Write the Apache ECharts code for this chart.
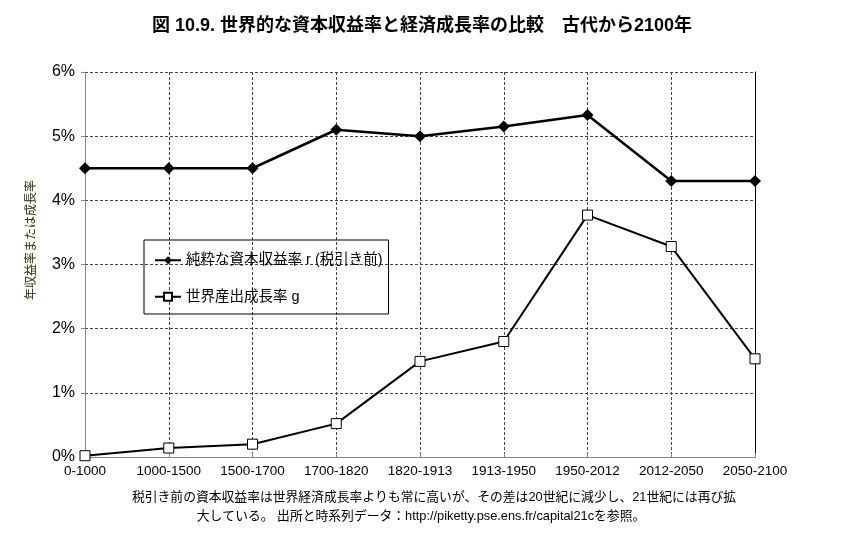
<!DOCTYPE html>
<html>
<head>
<meta charset="utf-8">
<script src="https://cdn.jsdelivr.net/npm/echarts@6/dist/echarts.min.js"></script>
<style>
  html, body { margin: 0; padding: 0; background: #fff; }
  #chart1 { width: 844px; height: 546px; }
</style>
</head>
<body>
<div id="chart1"></div>
<script>
// data
var periods = ['0-1000', '1000-1500', '1500-1700', '1700-1820', '1820-1913',
               '1913-1950', '1950-2012', '2012-2050', '2050-2100'];
var returnRate = [4.5, 4.5, 4.5, 5.1, 5.0, 5.15, 5.33, 4.3, 4.3];
var growthRate = [0.02, 0.14, 0.2, 0.52, 1.49, 1.8, 3.77, 3.28, 1.53];
var seriesNames = ['純粋な資本収益率 r (税引き前)', '世界産出成長率 g'];

var FONT = '"Liberation Sans", "Noto Sans CJK JP", sans-serif';

var chartDom = document.getElementById('chart1');
var myChart = echarts.init(chartDom);
var option;

option = {
    backgroundColor: '#fff',
    textStyle: {fontFamily: FONT},
    title: {
        text: '図 10.9. 世界的な資本収益率と経済成長率の比較　古代から2100年',
        left: 'center',
        top: 12,
        textStyle: {fontSize: 18, fontWeight: 'bold', color: '#000', fontFamily: FONT}
    },
    legend: {
        orient: 'vertical',
        left: 144,
        top: 240,
        padding: [13, 6, 10, 10],
        itemGap: 22,
        itemWidth: 26,
        itemHeight: 10,
        borderColor: '#000',
        borderWidth: 1,
        textStyle: {fontSize: 14.5, color: '#000', fontFamily: FONT},
        data: seriesNames
    },
    grid: {left: 85, right: 89, top: 72, bottom: 89},
    xAxis: {
        type: 'category',
        data: periods,
        boundaryGap: false,
        axisLine: {lineStyle: {color: '#888', width: 1}},
        axisTick: {show: true, inside: true, length: 4, lineStyle: {color: '#888'}},
        axisLabel: {fontSize: 13.5, color: '#000', margin: 8, interval: 0},
        splitLine: {show: true, lineStyle: {type: [3, 2], color: '#444', width: 1}}
    },
    yAxis: [
        {
            type: 'value',
            min: 0,
            max: 6,
            interval: 1,
            axisLine: {show: true, lineStyle: {color: '#888', width: 1}},
            axisTick: {show: true, length: 4, lineStyle: {color: '#888'}},
            axisLabel: {formatter: '{value}%', fontSize: 16, color: '#000', margin: 10},
            splitLine: {show: true, lineStyle: {type: [3, 2], color: '#444', width: 1}}
        },
        {
            type: 'value',
            min: 0,
            max: 6,
            interval: 1,
            position: 'right',
            axisLine: {show: true, lineStyle: {color: '#000', width: 1}},
            axisTick: {show: false},
            axisLabel: {show: false},
            splitLine: {show: false}
        }
    ],
    series: [
        {
            name: seriesNames[0],
            type: 'line',
            data: returnRate,
            symbol: 'diamond',
            symbolSize: 12,
            itemStyle: {color: '#000'},
            lineStyle: {color: '#000', width: 2.5},
            z: 3
        },
        {
            name: seriesNames[1],
            type: 'line',
            data: growthRate,
            symbol: 'rect',
            symbolSize: 10,
            itemStyle: {color: '#fff', borderColor: '#000', borderWidth: 1},
            lineStyle: {color: '#000', width: 2},
            z: 3
        }
    ],
    graphic: [
        {
            // y axis name, set apart from the axis centre as in the figure
            type: 'text',
            x: 32,
            y: 240,
            rotation: Math.PI / 2,
            style: {
                text: '年収益率または成長率',
                textAlign: 'center',
                textVerticalAlign: 'middle',
                font: '12px ' + FONT,
                fill: '#332e00'
            }
        },
        {
            type: 'text',
            x: 434,
            y: 497,
            style: {
                text: '税引き前の資本収益率は世界経済成長率よりも常に高いが、その差は20世紀に減少し、21世紀には再び拡',
                textAlign: 'center',
                textVerticalAlign: 'middle',
                font: '12.8px ' + FONT,
                fill: '#000'
            }
        },
        {
            type: 'text',
            x: 421,
            y: 516,
            style: {
                text: '大している。 出所と時系列データ：http://piketty.pse.ens.fr/capital21cを参照。',
                textAlign: 'center',
                textVerticalAlign: 'middle',
                font: '12.8px ' + FONT,
                fill: '#000'
            }
        }
    ]
};

option && myChart.setOption(option);
</script>
</body>
</html>
